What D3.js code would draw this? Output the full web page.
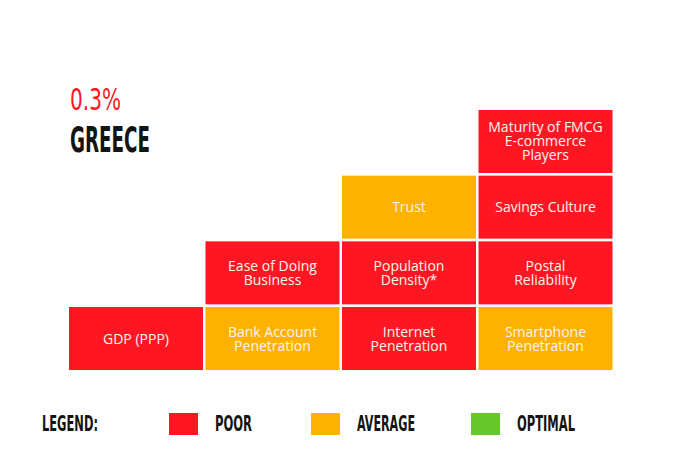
<!DOCTYPE html>
<html>
<head>
<meta charset="utf-8">
<script src="https://cdn.jsdelivr.net/npm/d3@7"></script>
<style>
  html, body { margin: 0; padding: 0; background: #fff; }
  svg { display: block; }
</style>
</head>
<body>
<svg id="chart" width="690" height="474"></svg>
<script>
// ---- data ----
const cellLabels = [
  "GDP (PPP)",
  "Bank Account|Penetration",
  "Ease of Doing|Business",
  "Internet|Penetration",
  "Population|Density*",
  "Trust",
  "Smartphone|Penetration",
  "Postal|Reliability",
  "Savings Culture",
  "Maturity of FMCG|E-commerce|Players"
];
const cellColumns = [0, 1, 1, 2, 2, 2, 3, 3, 3, 3];
const cellLevels  = [0, 0, 1, 0, 1, 2, 0, 1, 2, 3];
const cellRatings = ["Poor", "Average", "Poor", "Poor", "Poor", "Average", "Average", "Poor", "Poor", "Poor"];
const ratingNames = ["Poor", "Average", "Optimal"];
const legendLabels = ["POOR", "AVERAGE", "OPTIMAL"];
const headlineValue = "0.3%";
const countryName = "GREECE";

const cells = cellLabels.map((l, i) => ({
  label: l.split("|"), col: cellColumns[i], level: cellLevels[i], rating: cellRatings[i]
}));

// ---- scales ----
const svg = d3.select("#chart");
const color = d3.scaleOrdinal().domain(ratingNames).range(["#FE1722", "#FDB100", "#66C62A"]);
const x = d3.scaleBand().domain([0, 1, 2, 3]).range([69, 612.5]).paddingInner(0.0183).paddingOuter(0);
const y = d3.scaleBand().domain([3, 2, 1, 0]).range([110, 370]).paddingInner(0.041).paddingOuter(0);

// ---- title ----
const condensed = "'Liberation Sans Narrow', 'DejaVu Sans Condensed', 'Liberation Sans', sans-serif";
svg.append("text").attr("x", 70).attr("y", 110)
  .attr("font-family", condensed).attr("font-size", 31)
  .attr("fill", "#FE1722")
  .attr("textLength", 51).attr("lengthAdjust", "spacingAndGlyphs")
  .text(headlineValue);
svg.append("text").attr("x", 70).attr("y", 152)
  .attr("font-family", condensed).attr("font-weight", "bold").attr("font-size", 35)
  .attr("fill", "#141414")
  .attr("textLength", 80).attr("lengthAdjust", "spacingAndGlyphs")
  .text(countryName);

// ---- cells ----
const g = svg.append("g");
const cg = g.selectAll("g.cell").data(cells).join("g").attr("class", "cell");
cg.append("rect")
  .attr("x", d => x(d.col)).attr("y", d => y(d.level))
  .attr("width", x.bandwidth()).attr("height", y.bandwidth())
  .attr("fill", d => color(d.rating));
cg.append("text")
  .attr("font-family", "'Open Sans', sans-serif").attr("font-size", 14)
  .attr("fill", "#fff4f0").attr("text-anchor", "middle")
  .each(function(d) {
    const t = d3.select(this);
    const cx = x(d.col) + x.bandwidth() / 2;
    const cy = y(d.level) + y.bandwidth() / 2;
    const lh = 14;
    const n = d.label.length;
    d.label.forEach((line, i) => {
      t.append("tspan").attr("x", cx)
        .attr("y", cy + (i - (n - 1) / 2) * lh + 5)
        .text(line);
    });
  });

// ---- legend ----
svg.append("text").attr("x", 42).attr("y", 431)
  .attr("font-family", condensed).attr("font-weight", "bold").attr("font-size", 22)
  .attr("fill", "#141414")
  .attr("textLength", 56).attr("lengthAdjust", "spacingAndGlyphs")
  .text("LEGEND:");
const legX = d3.scaleOrdinal().domain(ratingNames).range([169, 311, 471]);
const legTextW = [37, 58, 58];
const lg = svg.selectAll("g.leg").data(ratingNames).join("g").attr("class", "leg");
lg.append("rect")
  .attr("x", d => legX(d)).attr("y", 413).attr("width", 29).attr("height", 22)
  .attr("fill", d => color(d));
lg.append("text")
  .attr("x", d => legX(d) + 46).attr("y", 431)
  .attr("font-family", condensed).attr("font-weight", "bold").attr("font-size", 22)
  .attr("fill", "#141414")
  .attr("textLength", (d, i) => legTextW[i]).attr("lengthAdjust", "spacingAndGlyphs")
  .text((d, i) => legendLabels[i]);
</script>
</body>
</html>
